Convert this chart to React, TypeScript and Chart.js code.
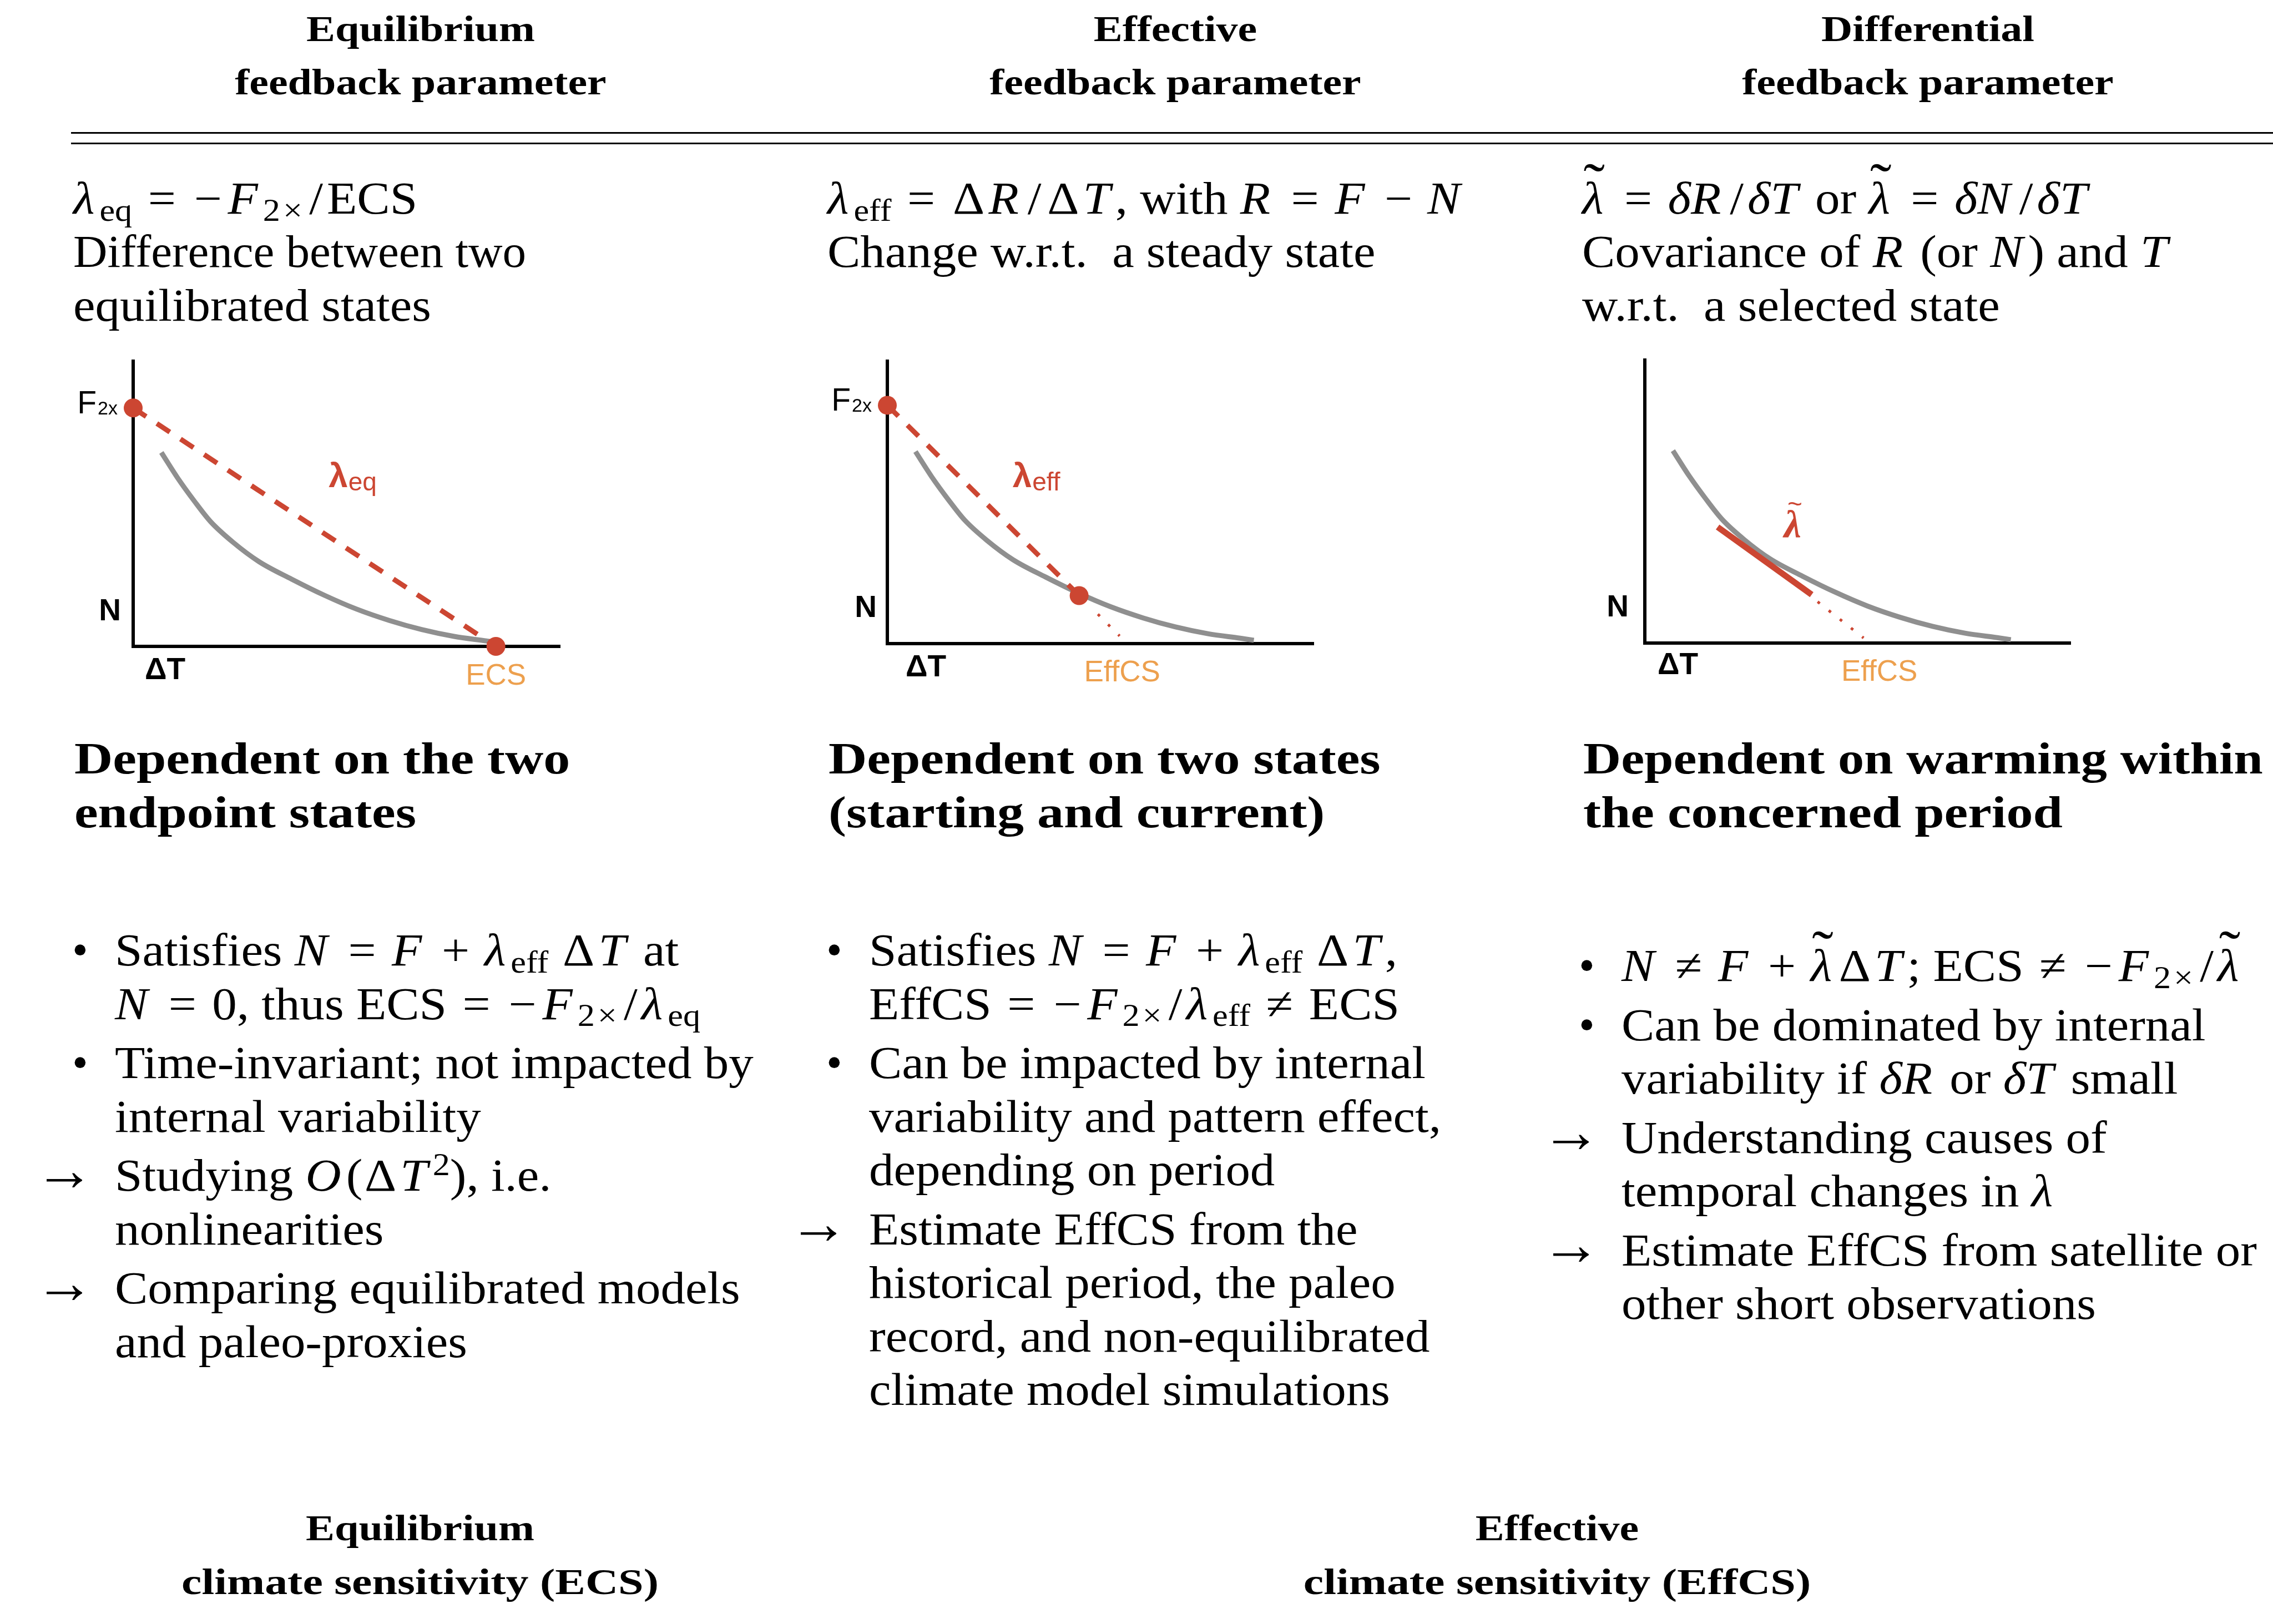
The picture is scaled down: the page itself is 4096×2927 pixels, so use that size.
import React, { useEffect, useRef } from "react";
import { Chart, registerables } from "chart.js";

Chart.register(...registerables);

// ---------------- chart data (x = ΔT, y = N; both axes run 0..10) ----------------
const axisMin = 0;
const axisMax = 10;

// grey N(ΔT) response curve (same in the three panels)
const curveDeltaT = [0.66, 1.04, 1.43, 1.81, 2.34, 2.95, 3.71, 4.47, 5.23, 6.0, 6.76, 7.52, 8.28, 8.6];
const curveN = [6.8, 5.91, 5.1, 4.38, 3.65, 2.97, 2.36, 1.8, 1.31, 0.91, 0.59, 0.35, 0.19, 0.12];

// panel 1: equilibrium feedback (F2x -> ECS)
const eqDeltaT = [0, 8.5];
const eqN = [8.36, 0];

// panel 2: effective feedback (F2x -> current state), dotted extension
const effDeltaT = [0, 4.5];
const effN = [8.44, 1.7];
const effExtDeltaT = [4.94, 5.45];
const effExtN = [1.04, 0.27];

// panel 3: differential feedback (local slope), dotted extension
const diffDeltaT = [1.71, 3.92];
const diffN = [4.1, 1.71];
const diffExtDeltaT = [4.06, 5.14];
const diffExtN = [1.46, 0.18];

// label anchors (data units)
const sensitivityLabels = ["ECS", "EffCS", "EffCS"];
const sensitivityLabelT = [8.5, 5.51, 5.51];
const lambdaSubs = ["eq", "eff", ""];
const lambdaLabelT = [4.58, 2.94, 3.27];
const lambdaLabelN = [5.58, 5.55, 3.74];

// ---------------- styles ----------------
const RED = "#cc4632";
const ORANGE = "#eda04e";
const GRAY = "#8f8f8f";
const SERIF = '"Liberation Serif", "Times New Roman", Times, serif';
const SANS = '"Liberation Sans", Arial, Helvetica, sans-serif';

const pts = (xs: number[], ys: number[]) => xs.map((x, i) => ({ x, y: ys[i] }));

// ---------------- mini chart ----------------
const PAD = { left: 160, top: 110, right: 80, bottom: 100 };

type Box = { left: number; top: number; right: number; bottom: number };
type LabelSpec = {
  idx: number;
  f2x: number | null;
  nGap: number;
  nBase: number;
  dtGap: number;
  dtBase: number;
  sensBase: number;
};

function drawLabels(chart: any, spec: LabelSpec) {
  const ctx = chart.ctx as CanvasRenderingContext2D;
  const xs = chart.scales.x;
  const ys = chart.scales.y;
  const ax = xs.getPixelForValue(0);
  const ay = ys.getPixelForValue(0);
  ctx.save();
  ctx.textBaseline = "alphabetic";
  ctx.fillStyle = "#000";

  // axis names
  ctx.font = `bold 55px ${SANS}`;
  ctx.textAlign = "right";
  ctx.fillText("N", ax - spec.nGap, ay - spec.nBase);
  ctx.textAlign = "left";
  ctx.fillText("ΔT", ax + spec.dtGap, ay + spec.dtBase);

  // F2x
  if (spec.f2x !== null) {
    const fy = ys.getPixelForValue(spec.f2x);
    ctx.textAlign = "right";
    ctx.font = `34px ${SANS}`;
    const subW = ctx.measureText("2x").width;
    ctx.fillText("2x", ax - 28, fy + 12);
    ctx.font = `57px ${SANS}`;
    ctx.fillText("F", ax - 30 - subW, fy + 10);
  }

  // sensitivity label
  ctx.fillStyle = ORANGE;
  ctx.font = `53px ${SANS}`;
  ctx.textAlign = "center";
  ctx.fillText(sensitivityLabels[spec.idx], xs.getPixelForValue(sensitivityLabelT[spec.idx]), ay + spec.sensBase);

  // lambda label
  ctx.fillStyle = RED;
  ctx.textAlign = "left";
  const lx = xs.getPixelForValue(lambdaLabelT[spec.idx]);
  const ly = ys.getPixelForValue(lambdaLabelN[spec.idx]);
  const sub = lambdaSubs[spec.idx];
  if (sub) {
    ctx.font = `bold 62px ${SANS}`;
    ctx.fillText("λ", lx, ly);
    const w = ctx.measureText("λ").width;
    ctx.font = `46px ${SANS}`;
    ctx.fillText(sub, lx + w + 1, ly + 6);
  } else {
    ctx.font = `italic bold 70px ${SERIF}`;
    ctx.fillText("λ", lx, ly);
    const w = ctx.measureText("λ").width;
    ctx.font = `46px ${SANS}`;
    ctx.textAlign = "center";
    ctx.fillText("~", lx + w / 2 + 4, ly - 44);
  }
  ctx.restore();
}

function MiniChart({ box, datasets, spec }: { box: Box; datasets: any[]; spec: LabelSpec }) {
  const ref = useRef<HTMLCanvasElement | null>(null);
  const width = box.right - box.left + PAD.left + PAD.right;
  const height = box.bottom - box.top + PAD.top + PAD.bottom;
  useEffect(() => {
    if (!ref.current) return;
    const labelPlugin = {
      id: "panelLabels",
      afterDatasetsDraw(chart: any) {
        drawLabels(chart, spec);
      },
    };
    const axisOpts = {
      type: "linear",
      min: axisMin,
      max: axisMax,
      grid: { display: false, drawTicks: false },
      ticks: { display: false },
      border: { display: true, color: "#000", width: 6 },
    };
    const chart = new Chart(ref.current, {
      type: "scatter",
      data: { datasets },
      options: {
        animation: false,
        responsive: false,
        devicePixelRatio: 1,
        events: [],
        layout: { padding: PAD, autoPadding: false },
        plugins: { legend: { display: false }, tooltip: { enabled: false }, title: { display: false } },
        scales: {
          x: { ...axisOpts, position: "bottom", afterFit: (s: any) => { s.height = 0; } },
          y: { ...axisOpts, position: "left", afterFit: (s: any) => { s.width = 0; } },
        },
      } as any,
      plugins: [labelPlugin],
    });
    return () => chart.destroy();
  }, []);
  return (
    <canvas
      ref={ref}
      width={width}
      height={height}
      style={{ position: "absolute", left: box.left - PAD.left, top: box.top - PAD.top, width, height }}
    />
  );
}

const lineDs = (xs: number[], ys: number[], color: string, w: number, dash: number[] = [], extra: any = {}) => ({
  data: pts(xs, ys),
  showLine: true,
  borderColor: color,
  backgroundColor: color,
  borderWidth: w,
  borderDash: dash,
  borderCapStyle: "butt",
  pointRadius: 0,
  pointHoverRadius: 0,
  clip: false,
  ...extra,
});
const dotDs = (xs: number[], ys: number[]) => ({
  data: pts(xs, ys),
  showLine: false,
  pointRadius: 17,
  pointHoverRadius: 17,
  pointBackgroundColor: RED,
  pointBorderWidth: 0,
  pointBorderColor: RED,
  clip: false,
});
const curveDs = () => lineDs(curveDeltaT, curveN, GRAY, 9, [], { cubicInterpolationMode: "monotone" });

const panel1 = [dotDs(eqDeltaT, eqN), lineDs(eqDeltaT, eqN, RED, 9, [28, 23]), curveDs()];
const panel2 = [
  dotDs(effDeltaT, effN),
  lineDs(effDeltaT, effN, RED, 9, [28, 23]),
  lineDs(effExtDeltaT, effExtN, RED, 5, [5, 21]),
  curveDs(),
];
const panel3 = [
  lineDs(diffDeltaT, diffN, RED, 11),
  lineDs(diffExtDeltaT, diffExtN, RED, 5, [5, 20.5]),
  curveDs(),
];

// ---------------- text helpers ----------------
const I = ({ children }: any) => <span style={{ fontStyle: "italic", letterSpacing: "0.1em" }}>{children}</span>;
const Dl = () => <span style={{ fontStyle: "italic" }}>δ</span>;
const Sub = ({ children }: any) => (
  <span style={{ fontSize: "0.7em", position: "relative", top: "0.22em", lineHeight: 0, fontStyle: "normal", letterSpacing: 0 }}>
    {children}
  </span>
);
const Sup = ({ children }: any) => (
  <span style={{ fontSize: "0.7em", position: "relative", top: "-0.5em", lineHeight: 0, letterSpacing: 0 }}>{children}</span>
);
const Op = ({ c }: any) => <span style={{ margin: "0 0.32em" }}>{c}</span>;
const Bn = ({ c }: any) => <span style={{ margin: "0 0.3em" }}>{c}</span>;
const Mn = () => <span style={{ margin: "0 0.12em 0 0.05em" }}>−</span>;
const Sl = () => <span style={{ margin: "0 0.08em" }}>/</span>;
const D = () => <span style={{ margin: "0 0.08em 0 0.04em" }}>Δ</span>;
const Tm = () => <span style={{ margin: "0 0.08em" }}>×</span>;
const L = () => <I>λ</I>;
const Lt = () => (
  <span style={{ position: "relative", display: "inline-block" }}>
    <I>λ</I>
    <span
      style={{
        position: "absolute",
        left: "50%",
        top: -38,
        transform: "translateX(-55%)",
        fontSize: "1.3em",
        lineHeight: "104px",
        fontStyle: "normal",
        letterSpacing: 0,
      }}
    >
      ˜
    </span>
  </span>
);

const BODY_SIZE = 82;
const BODY_SX = 1.085;
const BOLD_SX = 1.2;

function TLine({ x, y, size = BODY_SIZE, bold = false, sx = BODY_SX, center = false, font = SERIF, children }: any) {
  const style: any = {
    position: "absolute",
    top: y - 0.8375 * size,
    height: size,
    lineHeight: size + "px",
    fontFamily: font,
    fontSize: size,
    fontWeight: bold ? 700 : 400,
    whiteSpace: "nowrap",
    color: "#000",
    transform: `scaleX(${sx})`,
  };
  if (center) {
    style.left = x - 1200;
    style.width = 2400;
    style.textAlign = "center";
    style.transformOrigin = "50% 50%";
  } else {
    style.left = x;
    style.transformOrigin = "0 50%";
  }
  return <div style={style}>{children}</div>;
}

const colX = [132, 1491, 2851];
const bulletX = [207, 1566, 2922];
const topBase = [386, 482, 579];
const boldBase = [1394, 1491];

const headers = [
  { x: 758, lines: ["Equilibrium", "feedback parameter"] },
  { x: 2118, lines: ["Effective", "feedback parameter"] },
  { x: 3474, lines: ["Differential", "feedback parameter"] },
];
const footers = [
  { x: 757, lines: ["Equilibrium", "climate sensitivity (ECS)"] },
  { x: 2806, lines: ["Effective", "climate sensitivity (EffCS)"] },
];

const topTexts = [
  [
    <><L /><Sub>eq</Sub><Op c="=" /><Mn /><I>F</I><Sub>2<Tm /></Sub><Sl />ECS</>,
    <>Difference between two</>,
    <>equilibrated states</>,
  ],
  [
    <><L /><Sub>eff</Sub><Op c="=" /><D /><I>R</I><Sl /><D /><I>T</I>, with <I>R</I><Op c="=" /><I>F</I><Bn c="−" /><I>N</I></>,
    <>Change w.r.t.&nbsp; a steady state</>,
  ],
  [
    <><Lt /><Op c="=" /><Dl /><I>R</I><Sl /><Dl /><I>T</I> or <Lt /><Op c="=" /><Dl /><I>N</I><Sl /><Dl /><I>T</I></>,
    <>Covariance of <I>R</I> (or <I>N</I>) and <I>T</I></>,
    <>w.r.t.&nbsp; a selected state</>,
  ],
];
const topSx = [
  [BODY_SX, 1.038, BODY_SX],
  [BODY_SX, BODY_SX],
  [BODY_SX, BODY_SX, BODY_SX],
];

const boldTexts = [
  ["Dependent on the two", "endpoint states"],
  ["Dependent on two states", "(starting and current)"],
  ["Dependent on warming within", "the concerned period"],
];

type Item = { mark: string; lines: any[] };
const bulletTexts: Item[][] = [
  [
    {
      mark: "•",
      lines: [
        <>Satisfies <I>N</I><Op c="=" /><I>F</I><Bn c="+" /><L /><Sub>eff</Sub> <D /><I>T</I> at</>,
        <><I>N</I><Op c="=" />0, thus ECS<Op c="=" /><Mn /><I>F</I><Sub>2<Tm /></Sub><Sl /><L /><Sub>eq</Sub></>,
      ],
    },
    { mark: "•", lines: [<>Time-invariant; not impacted by</>, <>internal variability</>] },
    {
      mark: "→",
      lines: [<>Studying <I>O</I>(<D /><I>T</I><Sup>2</Sup>), i.e.</>, <>nonlinearities</>],
    },
    { mark: "→", lines: [<>Comparing equilibrated models</>, <>and paleo-proxies</>] },
  ],
  [
    {
      mark: "•",
      lines: [
        <>Satisfies <I>N</I><Op c="=" /><I>F</I><Bn c="+" /><L /><Sub>eff</Sub> <D /><I>T</I>,</>,
        <>EffCS<Op c="=" /><Mn /><I>F</I><Sub>2<Tm /></Sub><Sl /><L /><Sub>eff</Sub><Op c="≠" />ECS</>,
      ],
    },
    {
      mark: "•",
      lines: [<>Can be impacted by internal</>, <>variability and pattern effect,</>, <>depending on period</>],
    },
    {
      mark: "→",
      lines: [
        <>Estimate EffCS from the</>,
        <>historical period, the paleo</>,
        <>record, and non-equilibrated</>,
        <>climate model simulations</>,
      ],
    },
  ],
  [
    {
      mark: "•",
      lines: [
        <><I>N</I><Op c="≠" /><I>F</I><Bn c="+" /><Lt /><D /><I>T</I>; ECS<Op c="≠" /><Mn /><I>F</I><Sub>2<Tm /></Sub><Sl /><Lt /></>,
      ],
    },
    {
      mark: "•",
      lines: [<>Can be dominated by internal</>, <>variability if <Dl /><I>R</I> or <Dl /><I>T</I> small</>],
    },
    { mark: "→", lines: [<>Understanding causes of</>, <>temporal changes in <L /></>] },
    { mark: "→", lines: [<>Estimate EffCS from satellite or</>, <>other short observations</>] },
  ],
];
const bulletStart = [1741, 1741, 1769];
const LINE_STEP = 96.5;
const ITEM_GAP = 10;

function BulletColumn({ col }: { col: number }) {
  const out: any[] = [];
  let lineIdx = 0;
  bulletTexts[col].forEach((item, itemIdx) => {
    item.lines.forEach((ln, j) => {
      const y = bulletStart[col] + LINE_STEP * lineIdx + ITEM_GAP * itemIdx;
      if (j === 0) {
        if (item.mark === "•") {
          out.push(
            <TLine key={`m${itemIdx}`} x={bulletX[col] - 77} y={y} sx={1}>
              •
            </TLine>
          );
        } else {
          out.push(
            <TLine key={`m${itemIdx}`} x={bulletX[col] - 145} y={y - 2} size={108} sx={1}>
              →
            </TLine>
          );
        }
      }
      out.push(
        <TLine key={`l${itemIdx}-${j}`} x={bulletX[col]} y={y}>
          {ln}
        </TLine>
      );
      lineIdx++;
    });
  });
  return <>{out}</>;
}

export default function App() {
  const spec1: LabelSpec = { idx: 0, f2x: eqN[0], nGap: 22, nBase: 47, dtGap: 21, dtBase: 59, sensBase: 69 };
  const spec2: LabelSpec = { idx: 1, f2x: effN[0], nGap: 19, nBase: 48, dtGap: 33, dtBase: 59, sensBase: 68 };
  const spec3: LabelSpec = { idx: 2, f2x: null, nGap: 29, nBase: 48, dtGap: 23, dtBase: 56, sensBase: 68 };
  return (
    <div
      style={{
        position: "absolute",
        left: 0,
        top: 0,
        width: 4096,
        height: 2927,
        overflow: "hidden",
        background: "#fff",
      }}
    >
      {headers.map((h, i) =>
        h.lines.map((t, j) => (
          <TLine key={`h${i}${j}`} x={h.x} y={j === 0 ? 74 : 170} size={65} bold sx={BOLD_SX} center>
            {t}
          </TLine>
        ))
      )}
      <div style={{ position: "absolute", left: 128, right: 0, top: 238, height: 3, background: "#000" }} />
      <div style={{ position: "absolute", left: 128, right: 0, top: 257, height: 3, background: "#000" }} />

      {topTexts.map((lines, c) =>
        lines.map((ln, j) => (
          <TLine key={`t${c}${j}`} x={colX[c]} y={topBase[j]} sx={topSx[c][j]}>
            {ln}
          </TLine>
        ))
      )}

      <MiniChart box={{ left: 240, top: 651, right: 1009, bottom: 1165 }} datasets={panel1} spec={spec1} />
      <MiniChart box={{ left: 1599, top: 651, right: 2367, bottom: 1160 }} datasets={panel2} spec={spec2} />
      <MiniChart box={{ left: 2964, top: 649, right: 3731, bottom: 1159 }} datasets={panel3} spec={spec3} />

      {boldTexts.map((lines, c) =>
        lines.map((t, j) => (
          <TLine
            key={`b${c}${j}`}
            x={colX[c] + 2}
            y={boldBase[j]}
            size={80}
            bold
            sx={c === 2 && j === 0 ? 1.18 : BOLD_SX}
          >
            {t}
          </TLine>
        ))
      )}

      <BulletColumn col={0} />
      <BulletColumn col={1} />
      <BulletColumn col={2} />

      {footers.map((h, i) =>
        h.lines.map((t, j) => (
          <TLine
            key={`f${i}${j}`}
            x={h.x}
            y={j === 0 ? 2776 : 2873}
            size={65}
            bold
            sx={j === 0 ? BOLD_SX : 1.26}
            center
          >
            {t}
          </TLine>
        ))
      )}
    </div>
  );
}
